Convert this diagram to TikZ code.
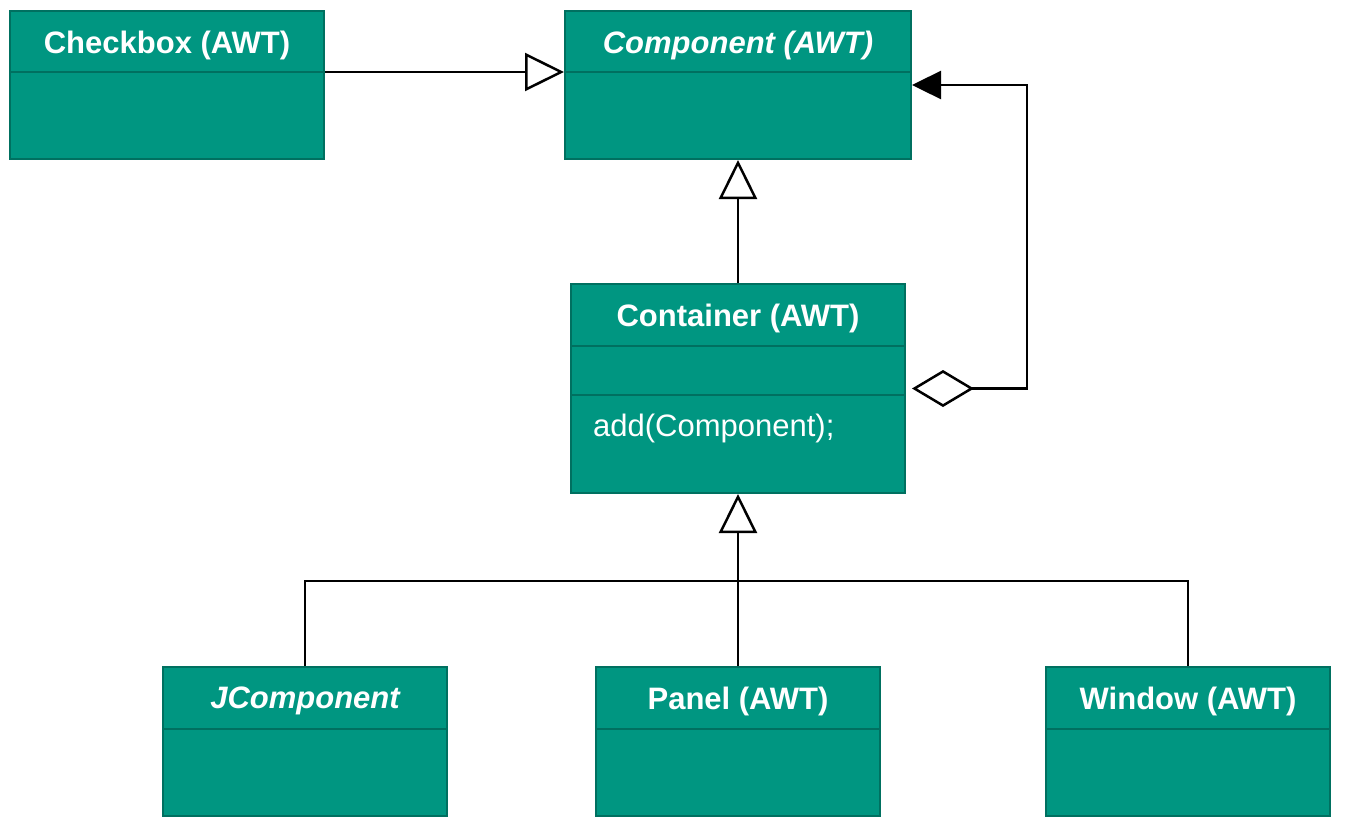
\documentclass[tikz,border=0pt]{standalone}
\usepackage{fontspec}
\setmainfont{Liberation Sans}
\usetikzlibrary{arrows.meta}
\definecolor{boxfill}{RGB}{0,150,129}
\definecolor{boxline}{RGB}{0,112,96}
\tikzset{
  umlbox/.style={rectangle, draw=boxline, fill=boxfill, line width=2pt, inner sep=0pt},
  divider/.style={draw=boxline, line width=2pt},
  title/.style={text=white, font=\fontsize{31}{37}\selectfont\bfseries, inner sep=0pt, anchor=center},
  ititle/.style={title, font=\fontsize{31}{37}\selectfont\bfseries\itshape},
  member/.style={text=white, font=\fontsize{31}{37}\selectfont, inner sep=0pt, anchor=west},
  conn/.style={line width=2.5pt, draw=black},
  inh/.style={conn, -{Triangle[open, fill=white, length=39pt, width=38pt]}},
  aggr/.style={conn, {Diamond[open, fill=white, length=62pt, width=37pt]}-{Triangle[length=29pt, width=28pt]}},
}
\begin{document}
\begin{tikzpicture}[x=1pt, y=-1pt]
\useasboundingbox (0,0) rectangle (1346,828);

% boxes
\node[umlbox, minimum width=314pt, minimum height=148pt] (chk) at (167,85) {};
\node[umlbox, minimum width=346pt, minimum height=148pt] (comp) at (738,85) {};
\node[umlbox, minimum width=334pt, minimum height=209pt] (cont) at (738,388.5) {};
\node[umlbox, minimum width=284pt, minimum height=149pt] (jc) at (305,741.5) {};
\node[umlbox, minimum width=284pt, minimum height=149pt] (pan) at (738,741.5) {};
\node[umlbox, minimum width=284pt, minimum height=149pt] (win) at (1188,741.5) {};

% dividers
\draw[divider] (chk.west |- 0,72) -- (chk.east |- 0,72);
\draw[divider] (comp.west |- 0,72) -- (comp.east |- 0,72);
\draw[divider] (cont.west |- 0,346) -- (cont.east |- 0,346);
\draw[divider] (cont.west |- 0,395) -- (cont.east |- 0,395);
\draw[divider] (jc.west |- 0,729) -- (jc.east |- 0,729);
\draw[divider] (pan.west |- 0,729) -- (pan.east |- 0,729);
\draw[divider] (win.west |- 0,729) -- (win.east |- 0,729);

% titles
\node[title] (chkT) at (167,45) {Checkbox (AWT)};
\node[ititle] (compT) at (738,45) {Component (AWT)};
\node[title] (contT) at (738,318) {Container (AWT)};
\node[member] (contM) at (593,428) {add(Component);};
\node[ititle] (jcT) at (305,701) {JComponent};
\node[title] (panT) at (738,701) {Panel (AWT)};
\node[title] (winT) at (1188,701) {Window (AWT)};

% connectors
\draw[inh] (chk.east |- 0,72) -- (comp.west |- 0,72);
\draw[inh] (cont.north) -- (comp.south);
\coordinate (jn) at (738,581);
\draw[conn] (jc.north) |- (jn);
\draw[conn] (win.north) |- (jn);
\draw[inh] (pan.north) -- (cont.south);
\draw[aggr, shorten <=6pt] (cont.east) -- ++(121,0) |- (comp.east);
\end{tikzpicture}
\end{document}
